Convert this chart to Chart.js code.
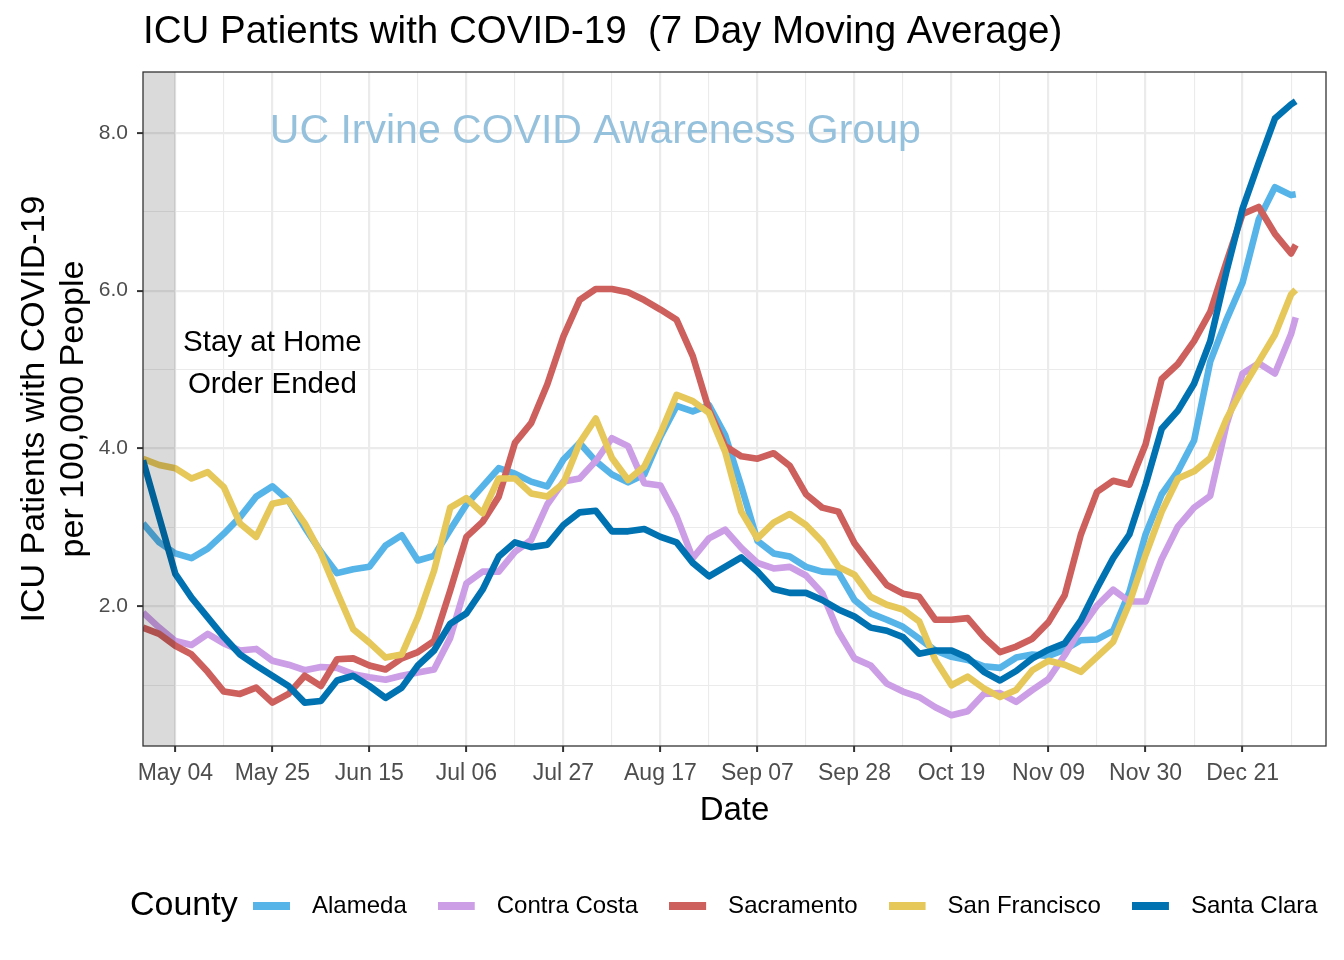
<!DOCTYPE html>
<html>
<head>
<meta charset="utf-8">
<script src="https://cdn.jsdelivr.net/npm/chart.js@4.4.1/dist/chart.umd.min.js"></script>
<style>
  html, body { margin: 0; padding: 0; background: #ffffff; }
  #wrap { width: 1344px; height: 960px; }
</style>
</head>
<body>
<div id="wrap"><canvas id="c" width="1344" height="960"></canvas></div>
<script>
// Days since Apr 27 (2020)
const days = [0,3.5,7,10.5,14,17.5,21,24.5,28,31.5,35,38.5,42,45.5,49,52.5,56,59.5,63,66.5,70,73.5,77,80.5,84,87.5,91,94.5,98,101.5,105,108.5,112,115.5,119,122.5,126,129.5,133,136.5,140,143.5,147,150.5,154,157.5,161,164.5,168,171.5,175,178.5,182,185.5,189,192.5,196,199.5,203,206.5,210,213.5,217,220.5,224,227.5,231,234.5,238,241.5,245,248.5,249.5];

const counties = ['Alameda','Contra Costa','Sacramento','San Francisco','Santa Clara'];

const alameda = [3.05,2.81,2.67,2.61,2.73,2.92,3.13,3.39,3.52,3.34,3.00,2.69,2.42,2.47,2.50,2.77,2.90,2.58,2.64,2.97,
3.29,3.52,3.75,3.68,3.58,3.52,3.86,4.07,3.84,3.67,3.57,3.67,4.15,4.54,4.47,4.55,4.17,3.52,2.83,
2.67,2.63,2.50,2.44,2.43,2.08,1.91,1.83,1.74,1.59,1.44,1.36,1.32,1.24,1.22,1.35,1.39,1.37,
1.45,1.57,1.58,1.69,2.18,2.91,3.42,3.71,4.10,5.10,5.63,6.10,6.90,7.31,7.21,7.22];

const contraCosta = [1.92,1.73,1.56,1.51,1.65,1.53,1.44,1.46,1.31,1.26,1.19,1.23,1.22,1.14,1.10,1.07,1.12,1.16,1.20,1.60,
2.29,2.44,2.44,2.69,2.84,3.29,3.58,3.62,3.84,4.13,4.03,3.56,3.53,3.14,2.61,2.86,2.97,2.74,2.55,
2.48,2.50,2.39,2.17,1.68,1.34,1.25,1.02,0.92,0.85,0.72,0.62,0.67,0.89,0.90,0.79,0.94,1.08,
1.38,1.72,2.01,2.21,2.06,2.06,2.60,3.01,3.25,3.40,4.30,4.95,5.08,4.95,5.45,5.66];

const sacramento = [1.73,1.65,1.50,1.39,1.17,0.92,0.89,0.97,0.78,0.89,1.12,0.99,1.33,1.34,1.25,1.20,1.34,1.42,1.56,2.20,
2.88,3.07,3.39,4.07,4.32,4.81,5.42,5.88,6.02,6.02,5.98,5.88,5.76,5.63,5.17,4.49,4.03,3.90,3.87,
3.94,3.78,3.42,3.25,3.20,2.80,2.53,2.27,2.16,2.12,1.83,1.83,1.85,1.61,1.42,1.49,1.59,1.80,
2.14,2.91,3.45,3.59,3.54,4.05,4.88,5.07,5.36,5.73,6.36,6.97,7.06,6.72,6.47,6.58];

const sanFrancisco = [3.87,3.79,3.75,3.62,3.70,3.51,3.05,2.88,3.30,3.34,3.05,2.67,2.18,1.71,1.54,1.35,1.39,1.86,2.45,3.25,
3.37,3.18,3.62,3.62,3.43,3.39,3.56,4.07,4.38,3.88,3.60,3.77,4.19,4.68,4.60,4.45,3.96,3.20,2.86,
3.06,3.17,3.03,2.82,2.50,2.40,2.12,2.02,1.96,1.81,1.32,1.00,1.11,0.96,0.85,0.94,1.19,1.31,
1.26,1.17,1.36,1.55,2.04,2.65,3.20,3.62,3.71,3.88,4.37,4.76,5.10,5.44,5.95,6.01];

const santaClara = [3.85,3.13,2.41,2.11,1.86,1.61,1.39,1.25,1.12,0.99,0.78,0.80,1.06,1.12,0.99,0.84,0.97,1.25,1.44,1.78,
1.91,2.21,2.63,2.81,2.75,2.78,3.03,3.19,3.21,2.95,2.95,2.98,2.88,2.81,2.55,2.38,2.50,2.62,2.44,
2.22,2.17,2.17,2.08,1.96,1.87,1.73,1.69,1.61,1.40,1.44,1.44,1.35,1.17,1.06,1.18,1.34,1.45,
1.53,1.82,2.23,2.61,2.91,3.54,4.25,4.48,4.82,5.36,6.24,7.04,7.62,8.18,8.36,8.40];

const colors = ['#56B4E9','#CC9EE6','#CD5F5C','#E6C75A','#0072B2'];

// x tick positions (days since Apr 27) and labels
const majorTickDays = [7,28,49,70,91,112,133,154,175,196,217,238];
const tickLabels = ['May 04','May 25','Jun 15','Jul 06','Jul 27','Aug 17','Sep 07','Sep 28','Oct 19','Nov 09','Nov 30','Dec 21'];
const minorTickDays = [17.5,38.5,59.5,80.5,101.5,122.5,143.5,164.5,185.5,206.5,227.5,248.5];
const yMajorTicks = [2,4,6,8];
const yMinorTicks = [1,3,5,7];

const FONT = "'Liberation Sans', Arial, Helvetica, sans-serif";
Chart.defaults.font.family = FONT;

const seriesList = [alameda, contraCosta, sacramento, sanFrancisco, santaClara];

function keyImage(color) {
  const c = document.createElement('canvas');
  c.width = 47; c.height = 8;
  const g = c.getContext('2d');
  g.fillStyle = color;
  g.fillRect(0, 0, 37, 8);
  return c;
}

const datasets = counties.map((name, i) => ({
  label: name,
  data: days.map((d, j) => ({x: d, y: seriesList[i][j]})),
  borderColor: colors[i],
  backgroundColor: colors[i],
  borderWidth: 6.6,
  pointRadius: 0,
  pointHoverRadius: 0,
  tension: 0,
  fill: false,
  borderJoinStyle: 'round',
  order: counties.length - i
}));

const isMajorX = v => majorTickDays.includes(v);
const isMajorY = v => yMajorTicks.includes(v);

const decorPlugin = {
  id: 'decor',
  afterLayout(chart) {
    if (chart.legend) { chart.legend.left = 222; chart.legend.right = 1400; }
    if (chart.titleBlock) { chart.titleBlock.left = 143; chart.titleBlock.right = 1340; }
  },
  afterDatasetsDraw(chart) {
    const {ctx, chartArea: a, scales: {x, y}} = chart;
    ctx.save();
    // shaded stay-at-home period
    ctx.fillStyle = 'rgba(0,0,0,0.145)';
    const x1 = x.getPixelForValue(7);
    ctx.fillRect(a.left, a.top, x1 - a.left, a.bottom - a.top);
    // watermark
    ctx.fillStyle = '#95C1DD';
    ctx.font = '41px ' + FONT;
    ctx.textAlign = 'center';
    ctx.textBaseline = 'middle';
    ctx.fillText('UC Irvine COVID Awareness Group', x.getPixelForValue(97.9), y.getPixelForValue(8.02));
    // annotation
    ctx.fillStyle = '#000000';
    ctx.font = '29.5px ' + FONT;
    ctx.fillText('Stay at Home', x.getPixelForValue(28), y.getPixelForValue(5.34));
    ctx.fillText('Order Ended', x.getPixelForValue(28), y.getPixelForValue(4.80));
    ctx.restore();
  },
  afterDraw(chart) {
    const {ctx, chartArea: a} = chart;
    ctx.save();
    ctx.strokeStyle = '#333333';
    ctx.lineWidth = 1.3;
    ctx.strokeRect(a.left, a.top, a.right - a.left, a.bottom - a.top);
    if (chart.legend) {
      ctx.fillStyle = '#000000';
      ctx.font = '34px ' + FONT;
      ctx.textAlign = 'left';
      ctx.textBaseline = 'middle';
      ctx.fillText('County', 130, chart.legend.top + 31 + 12);
    }
    ctx.restore();
  }
};

new Chart(document.getElementById('c'), {
  type: 'line',
  data: { datasets },
  options: {
    responsive: false,
    devicePixelRatio: 1,
    animation: false,
    layout: { padding: { left: 0, right: 18, top: 0, bottom: 32 } },
    plugins: {
      title: {
        display: true,
        text: 'ICU Patients with COVID-19  (7 Day Moving Average)',
        align: 'start',
        color: '#000000',
        font: { size: 38.5, weight: 'normal' },
        padding: { top: 9.5, bottom: 16.3 }
      },
      legend: {
        display: true,
        position: 'bottom',
        align: 'start',
        labels: {
          usePointStyle: true,
          pointStyleWidth: 47,
          boxHeight: 8,
          color: '#000000',
          font: { size: 24 },
          padding: 31,
          generateLabels(chart) {
            const items = Chart.defaults.plugins.legend.labels.generateLabels(chart);
            items.forEach(it => { it.pointStyle = keyImage(colors[it.datasetIndex]); });
            return items;
          },
          sort: (a, b) => a.datasetIndex - b.datasetIndex
        }
      },
      tooltip: { enabled: false }
    },
    scales: {
      x: {
        type: 'linear',
        position: 'bottom',
        min: 0,
        max: 256.06,
        afterBuildTicks(scale) {
          scale.ticks = majorTickDays.concat(minorTickDays).sort((a, b) => a - b).map(v => ({value: v}));
        },
        afterFit(scale) { scale.height = 117; },
        border: { display: false },
        grid: {
          color: '#EBEBEB',
          lineWidth: ctx => (ctx.tick && isMajorX(ctx.tick.value)) ? 2.2 : 1.1,
          tickLength: 6,
          tickWidth: 2,
          tickColor: ctx => (ctx.tick && isMajorX(ctx.tick.value)) ? '#333333' : 'rgba(0,0,0,0)'
        },
        ticks: {
          autoSkip: false,
          maxRotation: 0,
          minRotation: 0,
          color: '#4D4D4D',
          font: { size: 23 },
          padding: 8,
          callback: (v) => {
            const i = majorTickDays.indexOf(v);
            return i >= 0 ? tickLabels[i] : '';
          }
        },
        title: {
          display: true,
          text: 'Date',
          color: '#000000',
          font: { size: 33 },
          padding: { top: 0, bottom: 32 }
        }
      },
      y: {
        type: 'linear',
        min: 0.23,
        max: 8.77,
        afterBuildTicks(scale) {
          scale.ticks = yMinorTicks.concat(yMajorTicks).sort((a, b) => a - b).map(v => ({value: v}));
        },
        afterFit(scale) { scale.width = 143; },
        border: { display: false },
        grid: {
          color: '#EBEBEB',
          lineWidth: ctx => (ctx.tick && isMajorY(ctx.tick.value)) ? 2.2 : 1.1,
          tickLength: 6,
          tickWidth: 2,
          tickColor: ctx => (ctx.tick && isMajorY(ctx.tick.value)) ? '#333333' : 'rgba(0,0,0,0)'
        },
        ticks: {
          color: '#4D4D4D',
          font: { size: 21 },
          padding: 9,
          callback: (v) => isMajorY(v) ? v.toFixed(1) : ''
        },
        title: {
          display: true,
          text: ['ICU Patients with COVID-19', 'per 100,000 People'],
          color: '#000000',
          font: { size: 34, lineHeight: 1.15 },
          padding: { top: 15, bottom: 0 }
        }
      }
    }
  },
  plugins: [decorPlugin]
});
</script>
</body>
</html>
